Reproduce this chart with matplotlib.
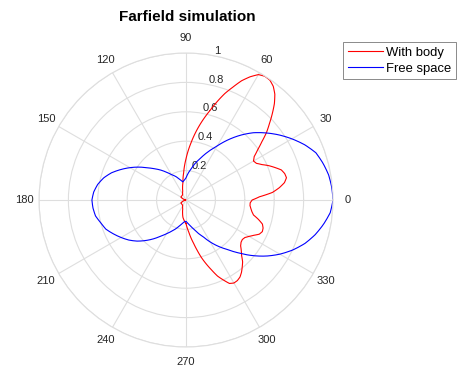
import numpy as np
import matplotlib
matplotlib.use("Agg")
import matplotlib.pyplot as plt

plt.rcParams['font.family'] = ['Liberation Sans', 'DejaVu Sans']

# free space pattern, every 5 degrees
free_deg = list(range(0, 365, 5))
free_r = [1.00, 0.995, 0.985, 0.965, 0.94, 0.89, 0.832, 0.772, 0.71, 0.647, 0.575, 0.50,
          0.425, 0.365, 0.31, 0.265, 0.22, 0.185, 0.15, 0.135, 0.125, 0.14, 0.16, 0.18,
          0.20, 0.23, 0.265, 0.30, 0.34, 0.39, 0.44, 0.49, 0.54, 0.58, 0.61, 0.63,
          0.64, 0.635, 0.625, 0.60, 0.58, 0.545, 0.51, 0.475, 0.435, 0.39, 0.345, 0.30,
          0.265, 0.235, 0.21, 0.185, 0.165, 0.15, 0.145, 0.16, 0.18, 0.205, 0.24, 0.275,
          0.33, 0.385, 0.44, 0.51, 0.588, 0.665, 0.737, 0.803, 0.862, 0.91, 0.95, 0.985,
          1.00]

# with body pattern, from -90 round to 270 degrees
body_deg = [-90, -85, -82.5, -80, -77.5, -75, -72.5, -70, -67.5, -65, -62.5, -60, -57.5,
            -55, -52.5, -50, -47.5, -45, -42.5, -40, -37.5, -35, -32.5, -30, -27.5, -25,
            -22.5, -20, -17.5, -15, -12.5, -10, -7.5, -5, -2.5, 0, 2.5, 5, 7.5, 10, 12.5,
            15, 17.5, 20, 22.5, 25, 27.5, 30, 32.5, 35, 37.5, 40, 42.5, 45, 47.5, 50, 52.5,
            55, 57.5, 60, 62.5, 65, 67.5, 70, 75, 80, 85, 90, 95, 100, 105, 110, 120, 130,
            140, 150, 160, 170, 180, 190, 200, 210, 220, 230, 240, 250, 255, 260, 265, 270]
body_r = [0.16, 0.22, 0.26, 0.30, 0.35, 0.405, 0.455, 0.505, 0.56, 0.60, 0.64, 0.652, 0.65,
          0.64, 0.62, 0.595, 0.57, 0.535, 0.51, 0.485, 0.472, 0.468, 0.475, 0.495, 0.52, 0.55,
          0.562, 0.558, 0.545, 0.51, 0.47, 0.455, 0.445, 0.437, 0.437, 0.45, 0.50, 0.59, 0.64,
          0.68, 0.70, 0.695, 0.68, 0.645, 0.61, 0.57, 0.54, 0.53, 0.55, 0.595, 0.65, 0.715,
          0.77, 0.83, 0.89, 0.94, 0.975, 0.995, 0.998, 0.985, 0.945, 0.895, 0.83, 0.77, 0.63,
          0.51, 0.39, 0.28, 0.185, 0.12, 0.09, 0.065, 0.045, 0.04, 0.04, 0.04, 0.02, 0.005,
          0.0, 0.005, 0.02, 0.04, 0.04, 0.04, 0.045, 0.065, 0.09, 0.12, 0.14, 0.16]

grid_col = '#dedede'
text_col = '#262626'

fig = plt.figure(figsize=(4.6, 3.67), dpi=100)
ax = fig.add_axes([39 / 460, 20 / 367, 294 / 460, 294 / 367], projection='polar')

l1, = ax.plot(np.deg2rad(body_deg), body_r, color='#ff0000', lw=0.8, label='With body')
l2, = ax.plot(np.deg2rad(free_deg), free_r, color='#0000ff', lw=0.8, label='Free space')
# let the polar transform bend each segment along theta
for ln in (l1, l2):
    ln.get_path()._interpolation_steps = 10

ax.set_ylim(0, 1)
ax.set_yticks([0.2, 0.4, 0.6, 0.8, 1.0])
ax.set_yticklabels(['0.2', '0.4', '0.6', '0.8', '1'])
ax.set_rlabel_position(79)
ax.set_xticks(np.deg2rad(np.arange(0, 360, 30)))
ax.set_xticklabels([str(a) for a in range(0, 360, 30)])
ax.tick_params(axis='both', labelsize=8, labelcolor=text_col)
ax.tick_params(axis='x', pad=0)
ax.grid(True, color=grid_col, lw=0.8)
ax.spines['polar'].set_color(grid_col)
ax.spines['polar'].set_linewidth(0.8)

fig.text(187 / 460, 1 - 17 / 367, 'Farfield simulation', fontsize=11,
         fontweight='bold', ha='center', va='center', color='black')

leg = fig.legend(loc='upper left', bbox_to_anchor=(343 / 460, 1 - 42 / 367),
                 fontsize=9.4, frameon=True, fancybox=False, borderaxespad=0,
                 handlelength=2.7, handletextpad=0.25, borderpad=0.35, labelspacing=0.3)
leg.get_frame().set_edgecolor('#555555')
leg.get_frame().set_linewidth(0.6)

fig.savefig('out.png', dpi=100)
